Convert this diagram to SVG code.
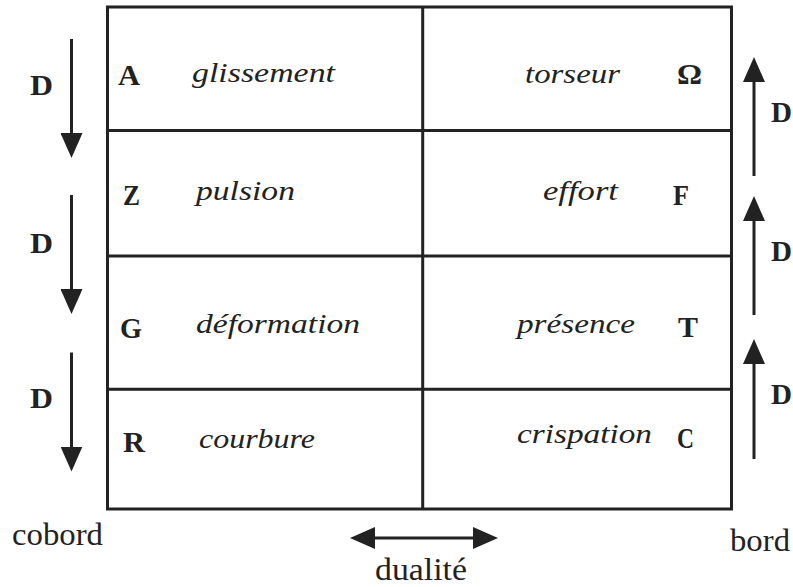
<svg xmlns="http://www.w3.org/2000/svg" width="793" height="587" viewBox="0 0 793 587">
<style>
.ln{stroke:#222;stroke-width:3;fill:none}
.b{font-family:"Liberation Serif",serif;font-weight:bold;font-size:30px;fill:#222}
.i{font-family:"Liberation Serif",serif;font-style:italic;font-size:28px;fill:#222}
.r{font-family:"Liberation Serif",serif;font-size:31px;fill:#222}
</style>
<defs>
<marker id="ah" markerUnits="userSpaceOnUse" markerWidth="26" markerHeight="22" refX="12" refY="11" orient="auto-start-reverse" viewBox="0 0 26 22">
<path d="M0,0 L25,11 L0,22 z" fill="#222"/>
</marker>
</defs>
<rect width="793" height="587" fill="#fff"/>
<g id="grid">
<rect class="ln" x="107.5" y="7" width="624" height="502"/>
<line class="ln" x1="422.7" y1="7" x2="422.7" y2="509"/>
<line class="ln" x1="107.5" y1="130.5" x2="731.5" y2="130.5"/>
<line class="ln" x1="107.5" y1="256" x2="731.5" y2="256"/>
<line class="ln" x1="107.5" y1="389.3" x2="731.5" y2="389.3"/>
</g>
<g id="cell-A"><text class="b" x="118" y="85" textLength="22" lengthAdjust="spacingAndGlyphs">A</text><text class="i" x="192" y="82" textLength="143" lengthAdjust="spacingAndGlyphs">glissement</text></g>
<g id="cell-Omega"><text class="i" x="525" y="83" textLength="95" lengthAdjust="spacingAndGlyphs">torseur</text><text class="b" x="677" y="84" textLength="25" lengthAdjust="spacingAndGlyphs">Ω</text></g>
<g id="cell-Z"><text class="b" x="123" y="205" textLength="17" lengthAdjust="spacingAndGlyphs">Z</text><text class="i" x="196" y="200" textLength="99" lengthAdjust="spacingAndGlyphs">pulsion</text></g>
<g id="cell-F"><text class="i" x="543" y="200" textLength="75" lengthAdjust="spacingAndGlyphs">effort</text><text class="b" x="673" y="205" textLength="16" lengthAdjust="spacingAndGlyphs">F</text></g>
<g id="cell-G"><text class="b" x="120" y="338" textLength="22" lengthAdjust="spacingAndGlyphs">G</text><text class="i" x="196" y="333" textLength="164" lengthAdjust="spacingAndGlyphs">déformation</text></g>
<g id="cell-T"><text class="i" x="517" y="333" textLength="118" lengthAdjust="spacingAndGlyphs">présence</text><text class="b" x="678" y="337" textLength="20" lengthAdjust="spacingAndGlyphs">T</text></g>
<g id="cell-R"><text class="b" x="123" y="452" textLength="22" lengthAdjust="spacingAndGlyphs">R</text><text class="i" x="199" y="448" textLength="116" lengthAdjust="spacingAndGlyphs">courbure</text></g>
<g id="cell-C"><text class="i" x="517" y="443" textLength="135" lengthAdjust="spacingAndGlyphs">crispation</text><text class="b" x="677" y="448" textLength="17" lengthAdjust="spacingAndGlyphs">C</text></g>
<g id="connectors">
<line class="ln" x1="71.5" y1="39" x2="71.5" y2="145" marker-end="url(#ah)"/>
<line class="ln" x1="71.5" y1="195" x2="71.5" y2="301" marker-end="url(#ah)"/>
<line class="ln" x1="71.5" y1="352.5" x2="71.5" y2="458.5" marker-end="url(#ah)"/>
<line class="ln" x1="754" y1="176" x2="754" y2="70" marker-end="url(#ah)"/>
<line class="ln" x1="754" y1="315" x2="754" y2="209" marker-end="url(#ah)"/>
<line class="ln" x1="754" y1="459" x2="754" y2="352" marker-end="url(#ah)"/>
<line class="ln" x1="363" y1="538" x2="485" y2="538" marker-start="url(#ah)" marker-end="url(#ah)"/>
</g>
<g id="labels">
<text class="b" x="30" y="95" textLength="23" lengthAdjust="spacingAndGlyphs">D</text>
<text class="b" x="30" y="253" textLength="23" lengthAdjust="spacingAndGlyphs">D</text>
<text class="b" x="30" y="408" textLength="23" lengthAdjust="spacingAndGlyphs">D</text>
<text class="b" x="771" y="122" textLength="21" lengthAdjust="spacingAndGlyphs">D</text>
<text class="b" x="771" y="261" textLength="21" lengthAdjust="spacingAndGlyphs">D</text>
<text class="b" x="771" y="404" textLength="21" lengthAdjust="spacingAndGlyphs">D</text>
<text class="r" x="12" y="545" textLength="91" lengthAdjust="spacingAndGlyphs">cobord</text>
<text class="r" x="730" y="551" textLength="60" lengthAdjust="spacingAndGlyphs">bord</text>
<text class="r" x="375" y="580" font-size="29" textLength="92" lengthAdjust="spacingAndGlyphs">dualité</text>
</g>
</svg>
